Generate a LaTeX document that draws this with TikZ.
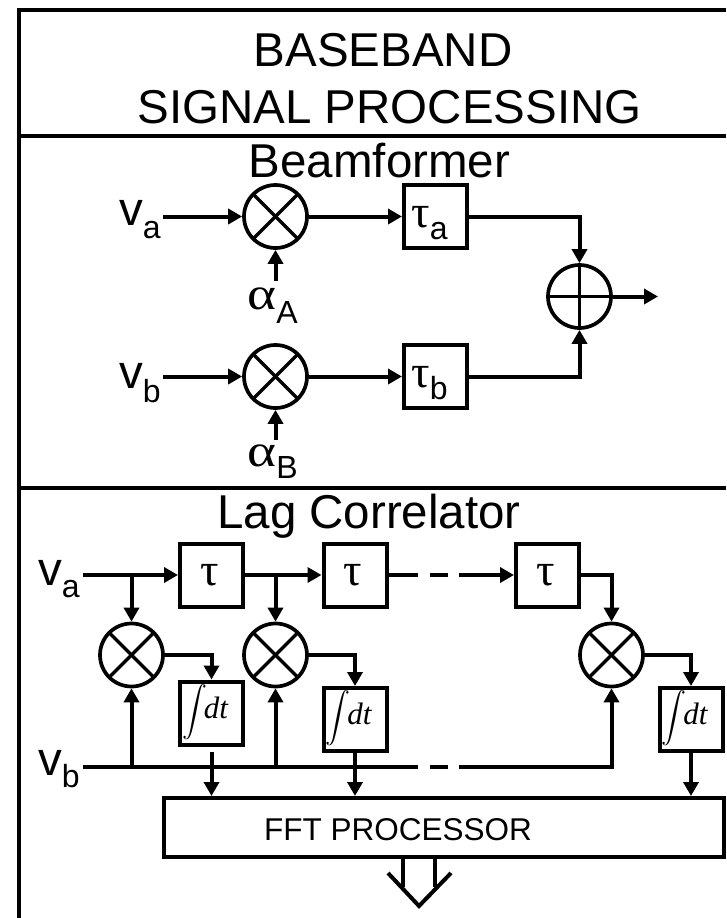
\documentclass[tikz,border=0pt]{standalone}
\usepackage{fontspec}
\setmainfont{Liberation Sans}
\newfontfamily\greekfont{Liberation Serif}
\usepackage{amsmath}
\usetikzlibrary{arrows.meta}
\tikzset{
	wire/.style={line width=4pt},
	arrowwire/.style={wire,-{Triangle[length=14pt,width=15pt]}},
	mixer/.style={circle,draw,line width=3.7pt,minimum size=63pt,inner sep=0pt,
		path picture={
			\draw[line width=3.3pt] (path picture bounding box.north west)--(path picture bounding box.south east);
			\draw[line width=3.3pt] (path picture bounding box.north east)--(path picture bounding box.south west);
		}},
	adder/.style={circle,draw,line width=3.7pt,minimum size=63pt,inner sep=0pt,
		path picture={
			\draw[line width=3.3pt] (path picture bounding box.north)--(path picture bounding box.south);
			\draw[line width=3.3pt] (path picture bounding box.west)--(path picture bounding box.east);
		}},
	delaybox/.style={rectangle,draw,line width=4pt,minimum width=63pt,minimum height=63pt,inner sep=0pt},
	textlabel/.style={inner sep=0pt,anchor=base,font=\fontsize{47.5}{47.5}\selectfont},
}
\newcommand{\subtext}[2]{\raisebox{#1}{\fontsize{32}{32}\selectfont #2}}
\newcommand{\tauch}{{\fontsize{46}{46}\selectfont\greekfont τ}}
\newcommand{\alphach}{\scalebox{1.2}[1]{\fontsize{46}{46}\selectfont\greekfont α}}
\newcommand{\intdt}{\raisebox{-5pt}[0pt][0pt]{\hspace{-5pt}{\fontsize{24}{24}\selectfont$\displaystyle\int$}\hspace{-3pt}{\fontsize{31}{31}\selectfont\greekfont\itshape dt}}\kern8pt}
\begin{document}
\begin{tikzpicture}[x=1pt,y=-1pt]
	\useasboundingbox (0,0) rectangle (726,918);
	\draw[line width=4pt] (18.5,918)--(18.5,9.5)--(726,9.5);
	\draw[line width=4pt] (18.5,135.5)--(726,135.5);
	\draw[line width=4pt] (18.5,488)--(726,488);
	\node[textlabel] (titlea) at (383,66) {BASEBAND};
	\node[textlabel] (titleb) at (389.5,123) {SIGNAL PROCESSING};
	\node[textlabel] (beam) at (379.5,177) {Beamformer};
	\node[textlabel] (lag) at (369,528) {Lag Correlator};

	\node[mixer] (mixa) at (275.5,216.5) {};
	\node[mixer] (mixb) at (275.5,376.5) {};
	\node[adder] (sum) at (579.5,296.5) {};
	\node[delaybox] (taua) at (435.5,216.5) {\raisebox{-10.5pt}[0pt][0pt]{\tauch\subtext{-12pt}{a}}\kern12pt};
	\node[delaybox] (taub) at (435.5,376.5) {\raisebox{-10.5pt}[0pt][0pt]{\tauch\subtext{-12pt}{b}}\kern12pt};
	\coordinate (ina) at (163,216.5);
	\coordinate (inb) at (163,376.5);
	\coordinate (ctla) at (275.5,281);
	\coordinate (ctlb) at (275.5,440);
	\coordinate (out) at (658,296.5);
	\node[textlabel] (va1) at (140,225) {v\subtext{-13pt}{a}};
	\node[textlabel] (vb1) at (140,388) {v\subtext{-14pt}{b}};
	\node[textlabel] (ala) at (272.5,309) {\alphach\subtext{-14pt}{A}};
	\node[textlabel] (alb) at (272.5,466) {\alphach\subtext{-12pt}{B}};
	\draw[arrowwire] (ina)--(mixa);
	\draw[arrowwire] (inb)--(mixb);
	\draw[arrowwire] (mixa)--(taua);
	\draw[arrowwire] (mixb)--(taub);
	\draw[arrowwire] (ctla)--(mixa);
	\draw[arrowwire] (ctlb)--(mixb);
	\draw[arrowwire] (taua) -| (sum);
	\draw[arrowwire] (taub) -| (sum);
	\draw[arrowwire] (sum)--(out);

	\node[delaybox] (tau1) at (211.5,575) {\raisebox{-10pt}[0pt][0pt]{\hspace{-4pt}\tauch}};
	\node[delaybox] (tau2) at (355,575) {\raisebox{-10pt}[0pt][0pt]{\hspace{-4pt}\tauch}};
	\node[delaybox] (tau3) at (547.5,575) {\raisebox{-10pt}[0pt][0pt]{\hspace{-4pt}\tauch}};
	\node[mixer] (mix1) at (131.5,655) {};
	\node[mixer] (mix2) at (275.5,655) {};
	\node[mixer] (mix3) at (611.5,655) {};
	\node[delaybox] (int1) at (211.5,713) {\intdt};
	\node[delaybox] (int2) at (355,719.5) {\intdt};
	\node[delaybox] (int3) at (691,719.5) {\intdt};
	\node[rectangle,draw,line width=4pt,minimum width=560pt,minimum height=59pt,inner sep=0pt] (fft) at (443.5,827.5) {};
	\node[inner sep=0pt,font=\fontsize{31.5}{31.5}\selectfont] (ffttext) at (398,830) {FFT PROCESSOR};
	\coordinate (sa) at (83,575);
	\coordinate (sb) at (83,767);
	\coordinate (tapa1) at (131.5,575);
	\coordinate (tapa2) at (275.5,575);
	\coordinate (tapb1) at (131.5,767);
	\coordinate (tapb2) at (275.5,767);
	\coordinate (dasha) at (403,575);
	\coordinate (dashb) at (403,767);
	\coordinate (enda) at (474,575);
	\coordinate (endb) at (474,767);
	\node[textlabel] (va2) at (59,585) {v\subtext{-12pt}{a}};
	\node[textlabel] (vb2) at (59,775) {v\subtext{-12pt}{b}};
	\draw[arrowwire] (sa)--(tau1);
	\draw[arrowwire] (tau1)--(tau2);
	\draw[wire] (tau2)--(dasha);
	\draw[wire,dash pattern=on 15pt off 12pt on 18pt off 11pt] (dasha)--(enda);
	\draw[arrowwire] (enda)--(tau3);
	\draw[arrowwire] (tapa1)--(mix1);
	\draw[arrowwire] (tapa2)--(mix2);
	\draw[arrowwire] (tau3.east) -| (mix3);
	\draw[wire] (sb)--(dashb);
	\draw[wire,dash pattern=on 15pt off 12pt on 18pt off 11pt] (dashb)--(endb);
	\draw[arrowwire] (endb) -| (mix3);
	\draw[arrowwire] (tapb1)--(mix1);
	\draw[arrowwire] (tapb2)--(mix2);
	\draw[arrowwire] (mix1) -| (int1);
	\draw[arrowwire] (mix2) -| (int2);
	\draw[arrowwire] (mix3) -| (int3);
	\draw[arrowwire,shorten <=5pt] (int1.south)--(int1.south|-fft.north);
	\draw[arrowwire] (int2.south)--(int2.south|-fft.north);
	\draw[arrowwire] (int3.south)--(int3.south|-fft.north);
	\coordinate (hollowl) at (403,887);
	\coordinate (hollowr) at (435,887);
	\coordinate (wingl) at (388,873);
	\coordinate (wingtip) at (419,906);
	\coordinate (wingr) at (451,873);
	\draw[wire] (hollowl|-fft.south)--(hollowl);
	\draw[wire] (hollowr|-fft.south)--(hollowr);
	\draw[wire] (wingl)--(wingtip)--(wingr);
\end{tikzpicture}
\end{document}
